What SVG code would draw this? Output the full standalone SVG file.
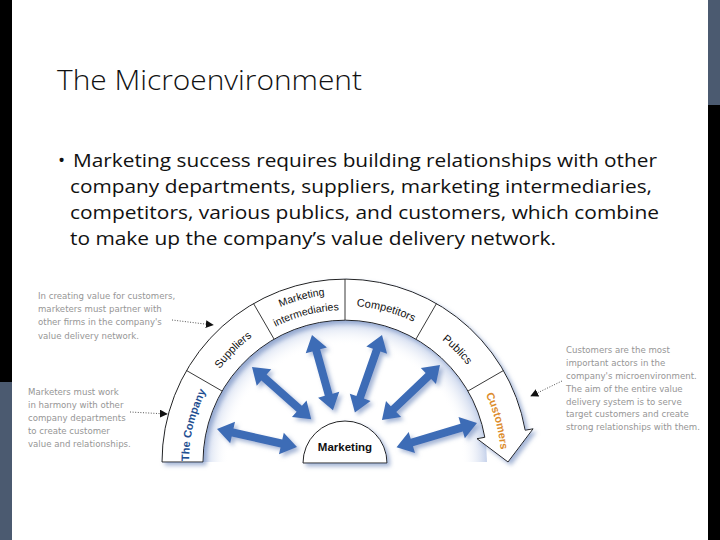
<svg xmlns="http://www.w3.org/2000/svg" width="720" height="540" viewBox="0 0 720 540">
<style>
.title{font-family:"Open Sans","Liberation Sans",sans-serif;font-size:27px;font-weight:300;fill:#111}
.body{font-family:"Open Sans","Liberation Sans",sans-serif;font-size:19px;fill:#111}
.note{font-family:"DejaVu Sans","Liberation Sans",sans-serif;font-size:8.6px;fill:#969696}
.band{fill:#fff;stroke:#222;stroke-width:1}
.div{stroke:#222;stroke-width:0.9}
.lbl{font-family:"Liberation Sans",Arial,sans-serif;font-size:11px;fill:#111}
.arr{fill:#3d6cb6}
.dot{stroke:#555;stroke-width:1;stroke-dasharray:1 1.6;fill:none}
</style>
<defs>
<filter id="sh" x="-20%" y="-20%" width="140%" height="140%">
<feDropShadow dx="3" dy="3" stdDeviation="2" flood-color="#7f97c4" flood-opacity="0.7"/>
</filter>
<radialGradient id="glow" gradientUnits="userSpaceOnUse" cx="345" cy="462" r="142">
<stop offset="0.82" stop-color="#ffffff" stop-opacity="0"/>
<stop offset="1" stop-color="#b3c3e4" stop-opacity="0.75"/>
</radialGradient>
<marker id="ah" viewBox="0 0 10 10" refX="9" refY="5" markerWidth="8" markerHeight="8" markerUnits="userSpaceOnUse" orient="auto">
<path d="M0,0 L10,5 L0,10 Z" fill="#111"/>
</marker>
<path id="tp" d="M189,462 A156,156 0 0 1 501,462"/>
<path id="tpHi" d="M177,462 A168,168 0 0 1 513,462"/>
<path id="tpLo" d="M193,462 A152,152 0 0 1 497,462"/>
</defs>
<rect width="720" height="540" fill="#fff"/>
<rect x="0" y="0" width="12" height="382" fill="#000"/>
<rect x="0" y="382" width="12" height="158" fill="#4b5a70"/>

<text class="title" x="57" y="90" textLength="305" lengthAdjust="spacingAndGlyphs">The Microenvironment</text>
<g id="bullets">
<text class="body" x="58" y="167">•</text>
<text class="body" x="73" y="167" textLength="584" lengthAdjust="spacingAndGlyphs">Marketing success requires building relationships with other</text>
<text class="body" x="70" y="193" textLength="582" lengthAdjust="spacingAndGlyphs">company departments, suppliers, marketing intermediaries,</text>
<text class="body" x="70" y="219" textLength="589" lengthAdjust="spacingAndGlyphs">competitors, various publics, and customers, which combine</text>
<text class="body" x="70" y="245" textLength="486" lengthAdjust="spacingAndGlyphs">to make up the company’s value delivery network.</text>
</g>

<path d="M203,462 A142,142 0 0 1 487,462 Z" fill="url(#glow)"/>

<g id="ring">
<path class="band" filter="url(#sh)" d="M162,462 A183,183 0 0 1 525.2,430.2 L533.1,428.8 L508,462 L477,438.7 L484.8,437.3 A142,142 0 0 0 203,462 Z"/>
<line class="div" x1="222" y1="391" x2="186.5" y2="370.5"/>
<line class="div" x1="274" y1="339" x2="253.5" y2="303.5"/>
<line class="div" x1="345" y1="320" x2="345" y2="279"/>
<line class="div" x1="416" y1="339" x2="436.5" y2="303.5"/>
<line class="div" x1="468" y1="391" x2="503.5" y2="370.5"/>
</g>
<g id="company"><text class="lbl" style="font-weight:bold;fill:#1f4f91" text-anchor="middle"><textPath href="#tp" startOffset="7.6%">The Company</textPath></text></g>
<g id="suppliers"><text class="lbl" text-anchor="middle"><textPath href="#tp" startOffset="25%">Suppliers</textPath></text></g>
<g id="intermediaries"><text class="lbl" style="font-size:10.5px" text-anchor="middle"><textPath href="#tpHi" startOffset="41.8%">Marketing</textPath></text><text class="lbl" style="font-size:10.5px" text-anchor="middle"><textPath href="#tpLo" startOffset="41.8%">intermediaries</textPath></text></g>
<g id="competitors"><text class="lbl" text-anchor="middle"><textPath href="#tp" startOffset="58.4%">Competitors</textPath></text></g>
<g id="publics"><text class="lbl" text-anchor="middle"><textPath href="#tp" startOffset="75%">Publics</textPath></text></g>
<g id="customers"><text class="lbl" style="font-weight:bold;fill:#dc8c2c" text-anchor="middle"><textPath href="#tp" startOffset="91.6%">Customers</textPath></text></g>

<g id="marketing">
<path d="M303,463 A42,42 0 0 1 387,463 Z" fill="#fff" stroke="#222" stroke-width="1" filter="url(#sh)"/>
<text x="345" y="451" text-anchor="middle" style="font-family:'Liberation Sans',Arial,sans-serif;font-size:11.5px;font-weight:bold;fill:#111">Marketing</text>
</g>

<g id="connectors" filter="url(#sh)">
<path class="arr" transform="translate(217,429) rotate(12.7)" d="M0,0 L16,-11 L16,-4 L66,-4 L66,-11 L82,0 L66,11 L66,4 L16,4 L16,11 Z"/>
<path class="arr" transform="translate(252,367) rotate(41.4)" d="M0,0 L16,-11 L16,-4 L63,-4 L63,-11 L79,0 L63,11 L63,4 L16,4 L16,11 Z"/>
<path class="arr" transform="translate(312,335) rotate(74.4)" d="M0,0 L16,-11 L16,-4 L62,-4 L62,-11 L78,0 L62,11 L62,4 L16,4 L16,11 Z"/>
<path class="arr" transform="translate(382,335) rotate(109.3)" d="M0,0 L16,-11 L16,-4 L66,-4 L66,-11 L82,0 L66,11 L66,4 L16,4 L16,11 Z"/>
<path class="arr" transform="translate(440,365) rotate(136.5)" d="M0,0 L16,-11 L16,-4 L64,-4 L64,-11 L80,0 L64,11 L64,4 L16,4 L16,11 Z"/>
<path class="arr" transform="translate(477,423) rotate(163.3)" d="M0,0 L16,-11 L16,-4 L68,-4 L68,-11 L84,0 L68,11 L68,4 L16,4 L16,11 Z"/>
</g>

<g id="note1">
<text class="note" x="38" y="299">In creating value for customers,</text>
<text class="note" x="38" y="312">marketers must partner with</text>
<text class="note" x="38" y="325">other firms in the company's</text>
<text class="note" x="38" y="339">value delivery network.</text>
</g>
<g id="note2">
<text class="note" x="28" y="395">Marketers must work</text>
<text class="note" x="28" y="408">in harmony with other</text>
<text class="note" x="28" y="421">company departments</text>
<text class="note" x="28" y="434">to create customer</text>
<text class="note" x="28" y="447">value and relationships.</text>
</g>
<g id="note3">
<text class="note" x="566" y="353">Customers are the most</text>
<text class="note" x="566" y="366">important actors in the</text>
<text class="note" x="566" y="379">company's microenvironment.</text>
<text class="note" x="566" y="392">The aim of the entire value</text>
<text class="note" x="566" y="405">delivery system is to serve</text>
<text class="note" x="566" y="417">target customers and create</text>
<text class="note" x="566" y="430">strong relationships with them.</text>
</g>
<g id="note-links">
<line class="dot" x1="172" y1="320" x2="213" y2="325" marker-end="url(#ah)"/>
<line class="dot" x1="130" y1="412" x2="167" y2="414" marker-end="url(#ah)"/>
<line class="dot" x1="562" y1="381" x2="531" y2="396" marker-end="url(#ah)"/>
</g>
<rect x="708" y="0" width="12" height="105" fill="#4b5a70"/>
<rect x="708" y="105" width="12" height="435" fill="#000"/>
</svg>
